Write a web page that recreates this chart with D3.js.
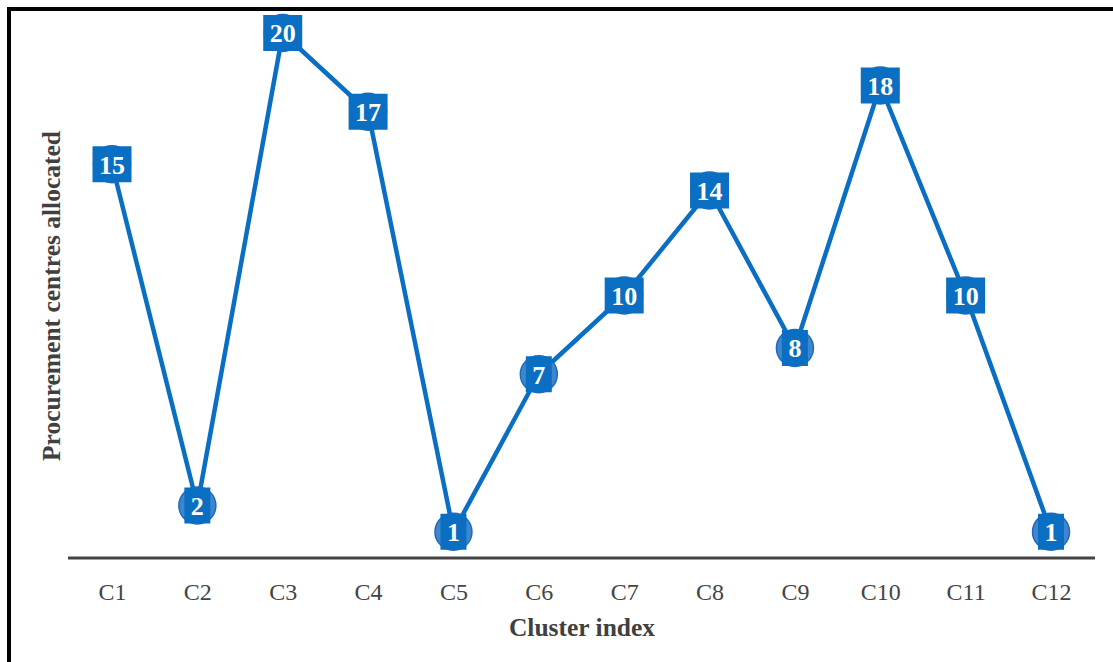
<!DOCTYPE html>
<html><head><meta charset="utf-8">
<script src="https://cdn.jsdelivr.net/npm/d3@7"></script>
<style>body{margin:0;background:#fff}svg{display:block}</style>
</head><body>
<svg id="c" width="1113" height="662"></svg>
<script>
const categories = ["C1","C2","C3","C4","C5","C6","C7","C8","C9","C10","C11","C12"];
const values = [15,2,20,17,1,7,10,14,8,18,10,1];
const xTitle = "Cluster index";
const yTitle = "Procurement centres allocated";

const FONT = "'Liberation Serif', 'Times New Roman', serif";
const svg = d3.select("#c");
svg.append("rect").attr("x",9).attr("y",9).attr("width",1120).attr("height",670)
  .attr("fill","#fff").attr("stroke","#000").attr("stroke-width",4);

const x = d3.scalePoint().domain(categories).range([112,1051]);
const y = d3.scaleLinear().domain([0,20]).range([558,33]);

// axis
const ax = svg.append("g").attr("transform","translate(0,558)")
  .call(d3.axisBottom(x).tickSize(0).tickPadding(25));
ax.select(".domain").remove();
ax.selectAll("text").attr("font-family",FONT)
  .attr("font-size",24).attr("fill","#444");
svg.append("line").attr("x1",68).attr("x2",1095).attr("y1",558).attr("y2",558)
  .attr("stroke","#444").attr("stroke-width",3);

// line
const line = d3.line().x((d,i)=>x(categories[i])).y(d=>y(d));
svg.append("path").datum(values).attr("d",line).attr("fill","none")
  .attr("stroke","#0a6fc2").attr("stroke-width",4.5).attr("stroke-linejoin","round");

// markers
const g = svg.append("g").selectAll("g").data(values).join("g")
  .attr("transform",(d,i)=>`translate(${x(categories[i])},${y(d)})`);
g.append("circle").attr("r",18.5).attr("fill","#3f86cf").attr("stroke","#1c6bb8").attr("stroke-width",1.5);
g.append("rect").attr("x",d=>String(d).length>1?-19.5:-13).attr("width",d=>String(d).length>1?39:26)
  .attr("y",-18).attr("height",36).attr("fill","#0a6fc2");
g.append("text").text(d=>d).attr("text-anchor","middle").attr("dy","0.36em")
  .attr("font-family",FONT).attr("font-weight","bold")
  .attr("font-size",26).attr("fill","#fff");

// titles
svg.append("text").attr("x",582).attr("y",636).attr("text-anchor","middle")
  .attr("font-family",FONT).attr("font-weight","bold")
  .attr("font-size",25.5).attr("fill","#404040").text(xTitle);
svg.append("text").attr("transform","translate(60,296) rotate(-90)").attr("text-anchor","middle")
  .attr("font-family",FONT).attr("font-weight","bold")
  .attr("font-size",25.5).attr("fill","#404040").text(yTitle);
</script>
</body></html>
